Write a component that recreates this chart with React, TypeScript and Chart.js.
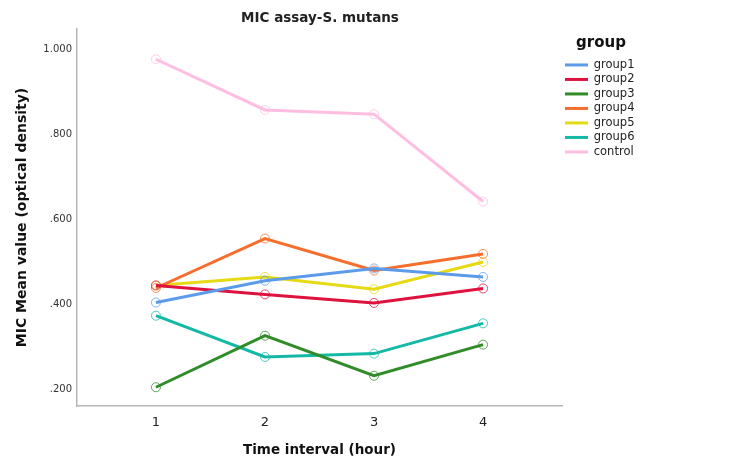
import React, { useEffect, useRef } from "react";
import { Chart, registerables } from "chart.js";

Chart.register(...registerables);

const TIME_POINTS = [1, 2, 3, 4];
const Y_TICKS = [0.2, 0.4, 0.6, 0.8, 1.0];

const GROUP_NAMES = ["group1", "group2", "group3", "group4", "group5", "group6", "control"];
const GROUP_COLORS = [
  "rgb(91,155,234)",
  "rgb(222,18,62)",
  "rgb(48,140,40)",
  "rgb(245,110,45)",
  "rgb(230,218,20)",
  "rgb(20,185,165)",
  "rgb(255,190,225)",
];

const group1 = [0.405, 0.456, 0.485, 0.465];
const group2 = [0.445, 0.424, 0.404, 0.438];
const group3 = [0.206, 0.327, 0.233, 0.306];
const group4 = [0.439, 0.555, 0.48, 0.519];
const group5 = [0.445, 0.465, 0.436, 0.5];
const group6 = [0.374, 0.277, 0.285, 0.356];
const control = [0.976, 0.857, 0.847, 0.642];

const SERIES = [group1, group2, group3, group4, group5, group6, control];

const FONT = "'DejaVu Sans', sans-serif";

function fade(c: string, a: number) {
  return c.replace("rgb(", "rgba(").replace(")", `,${a})`);
}

export default function App() {
  const ref = useRef<HTMLCanvasElement | null>(null);

  useEffect(() => {
    document.body.style.margin = "0";
    const canvas = ref.current;
    if (!canvas) return;
    const chart = new Chart(canvas, {
      type: "line",
      data: {
        labels: TIME_POINTS,
        datasets: SERIES.map((d, i) => ({
          label: GROUP_NAMES[i],
          data: d,
          borderColor: GROUP_COLORS[i],
          backgroundColor: GROUP_COLORS[i],
          borderWidth: 3,
          pointRadius: 4.5,
          pointBorderWidth: 1,
          pointBorderColor: fade(GROUP_COLORS[i], 0.75),
          pointBackgroundColor: "rgba(255,255,255,0)",
          tension: 0,
          fill: false,
        })),
      },
      options: {
        animation: false,
        responsive: false,
        layout: { padding: { left: 0, right: 110, top: 0, bottom: 0 } },
        plugins: {
          tooltip: { enabled: false },
          title: {
            display: true,
            text: "MIC assay-S. mutans",
            color: "#222",
            font: { family: FONT, size: 13.5, weight: "bold" },
            padding: { top: 10, bottom: 2.8 },
          },
          legend: {
            display: true,
            position: "right",
            align: "start",
            maxWidth: 78,
            title: {
              display: true,
              text: "group",
              color: "#111",
              font: { family: FONT, size: 15, weight: "bold" },
              padding: { top: 35.5, bottom: 2.7 },
            },
            labels: {
              boxWidth: 23,
              boxHeight: 3,
              padding: 3,
              color: "#222",
              font: { family: FONT, size: 11.5 },
              generateLabels: (c: any) =>
                Chart.defaults.plugins.legend.labels
                  .generateLabels(c)
                  .map((l: any) => ({ ...l, lineWidth: 0 })),
            },
          },
        },
        scales: {
          x: {
            type: "linear",
            min: 0.276,
            max: 4.724,
            afterBuildTicks: (s: any) => {
              s.ticks = TIME_POINTS.map((v) => ({ value: v }));
            },
            afterFit: (s: any) => {
              s.height = 63;
            },
            grid: { display: false, drawTicks: false },
            border: { display: true, color: "#b5b5b5", width: 1.5 },
            ticks: {
              padding: 9,
              color: "#222",
              font: { family: FONT, size: 13 },
              callback: (v: any) => String(v),
            },
            title: {
              display: true,
              text: "Time interval (hour)",
              color: "#111",
              font: { family: FONT, size: 13.5, weight: "bold" },
              padding: { top: 0, bottom: 10 },
            },
          },
          y: {
            type: "linear",
            min: 0.162,
            max: 1.047,
            afterBuildTicks: (s: any) => {
              s.ticks = Y_TICKS.map((v) => ({ value: v }));
            },
            afterFit: (s: any) => {
              s.width = 77;
            },
            grid: { display: false, drawTicks: false },
            border: { display: true, color: "#b5b5b5", width: 1.5 },
            ticks: {
              padding: 5,
              color: "#333",
              font: { family: FONT, size: 10 },
              callback: (v: any) => Number(v).toFixed(3).replace(/^0/, ""),
            },
            title: {
              display: true,
              text: "MIC Mean value (optical density)",
              color: "#111",
              font: { family: FONT, size: 14, weight: "bold" },
              padding: { top: 14, bottom: 0 },
            },
          },
        },
      } as any,
    });
    return () => chart.destroy();
  }, []);

  return (
    <div style={{ width: 750, height: 469, background: "#fff" }}>
      <canvas ref={ref} width={750} height={469} style={{ display: "block" }} />
    </div>
  );
}
